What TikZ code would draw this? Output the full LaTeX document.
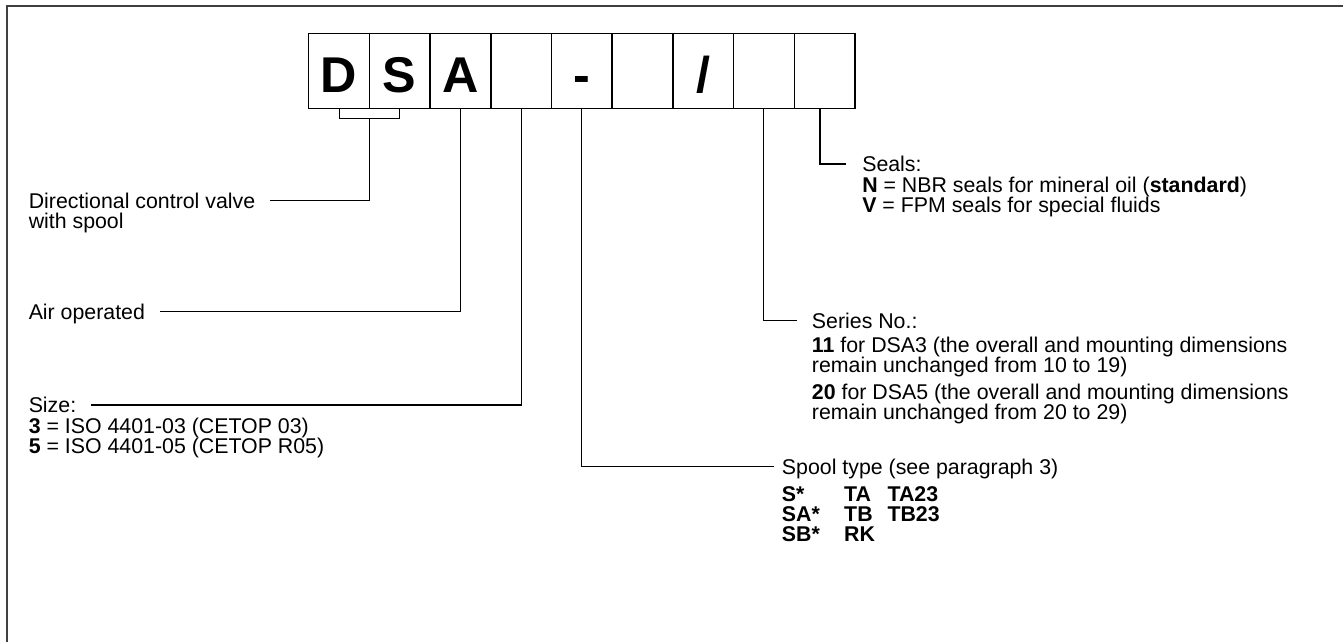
\documentclass[tikz,border=0pt]{standalone}
\usepackage{fontspec}
\setmainfont{Liberation Sans}
\usetikzlibrary{positioning}
\setlength{\lineskiplimit}{-100pt}
\newcommand{\spoolrow}[3]{\makebox[46.7pt][l]{#1}\makebox[32.5pt][l]{#2}#3}
\tikzset{
  codebox/.style={draw, line width=1.1pt, minimum width=45.5pt, minimum height=56.25pt,
    inner sep=0pt, outer sep=0pt, text height=32.8pt, text depth=0pt,
    font=\fontsize{37.7}{40}\selectfont\bfseries},
  ttl/.style={inner sep=0pt, anchor=west, text height=11.46pt, text depth=0pt,
    font=\fontsize{16}{15}\selectfont},
  txt/.style={inner sep=0pt, align=left, font=\fontsize{16}{15}\selectfont},
  leader/.style={line width=0.8pt, shorten >=11pt},
  frameline/.style={line width=1.5pt, black!75}
}
\begin{document}
\begin{tikzpicture}[x=0.75pt,y=-0.75pt]
\useasboundingbox (0,0) rectangle (1343,642);
\draw[frameline] (1343,6) -- (6.7,6) -- (6.7,642);
% code boxes
\foreach \t [count=\n] in {D,S,A,{},-,{},/,{},{}}
  \node[codebox] (b\n) at ({278.35+60.7*\n},70.8) {\t};
% labels
\node[ttl] (dcvT) at (28.5,200.7) {Directional control valve};
\node[txt, below right=3.3pt and 0pt of dcvT.south west] (dcvB) {with spool};
\node[ttl] (airT) at (28.5,311.7) {Air operated};
\node[ttl] (sizeT) at (28.5,405) {Size:};
\node[txt, below right=3.3pt and 0pt of sizeT.south west] (sizeB)
  {\textbf{3} = ISO 4401-03 (CETOP 03)\\\textbf{5} = ISO 4401-05 (CETOP R05)};
\node[ttl] (sealsT) at (862,164) {Seals:};
\node[txt, below right=3.3pt and 0pt of sealsT.south west] (sealsB)
  {\textbf{N} = NBR seals for mineral oil (\textbf{standard})\\\textbf{V} = FPM seals for special fluids};
\node[ttl] (seriesT) at (811.7,320.5) {Series No.:};
\node[txt, below right=6.6pt and 0pt of seriesT.south west] (seriesB)
  {\textbf{11} for DSA3 (the overall and mounting dimensions\\remain unchanged from 10 to 19)\\[5pt]%
   \textbf{20} for DSA5 (the overall and mounting dimensions\\remain unchanged from 20 to 29)};
\node[ttl] (spoolT) at (781.7,466.7) {Spool type (see paragraph 3)};
\node[txt, below right=8.8pt and 0pt of spoolT.south west] (spoolB)
  {\textbf{\spoolrow{S*}{TA}{TA23}}\\\textbf{\spoolrow{SA*}{TB}{TB23}}\\\textbf{\spoolrow{SB*}{RK}{}}};
% leaders
\draw[line width=0.8pt] (b1.south) -- ++(0,10) -| (b2.south);
\draw[leader] (b1.south east) ++(0,10) |- (dcvT.east);
\draw[leader] (b3.south) |- (airT.east);
\draw[leader] (b4.south) |- (sizeT.east);
\draw[leader, shorten >=5.8pt] (b5.south) |- (spoolT.west);
\draw[leader] (b8.south) |- (seriesT.west);
\draw[leader, shorten >=12pt] ([xshift=-3.5pt]b9.south) |- (sealsT.west);
\end{tikzpicture}
\end{document}
